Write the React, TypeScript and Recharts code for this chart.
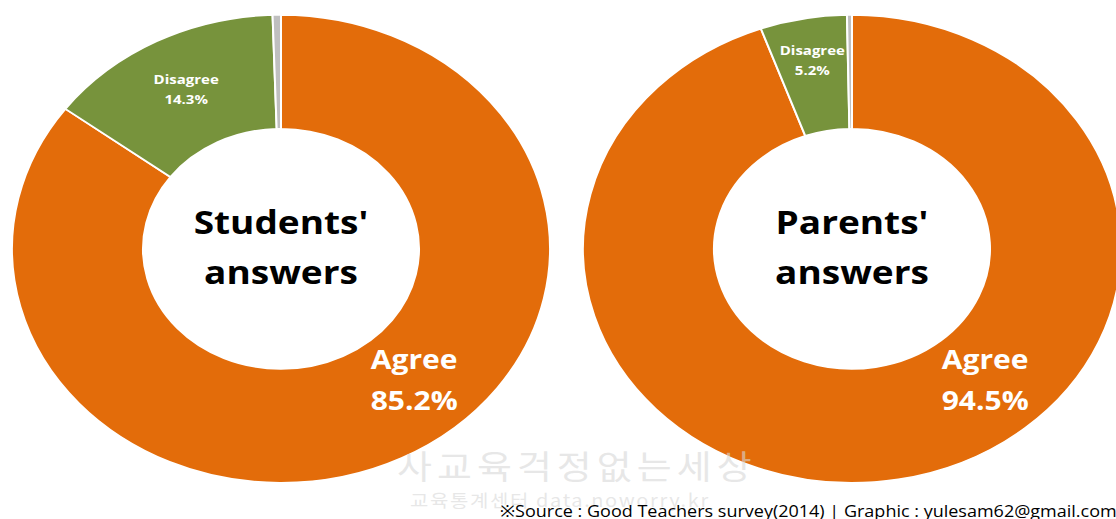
import { PieChart, Pie, Cell } from "recharts";

const categories = ["Agree", "Disagree", "No answer"];
const studentValues = [85.2, 14.3, 0.5];
const parentValues = [94.5, 5.2, 0.3];
const sliceColors = ["#E36C0A", "#77933C", "#BFBFBF"];
const chartTitles = [
  ["Students'", "answers"],
  ["Parents'", "answers"],
];
const sourceText = "※Source : Good Teachers survey(2014) | Graphic : yulesam62@gmail.com";
const watermark = ["사교육걱정없는세상", "교육통계센터 data.noworry.kr"];

const SQUASH = 0.87;
const W = 1116;
const H = 519;
const CH = Math.round(H / SQUASH);
const CY = 286;
const CENTERS = [281, 852];
const INNER = 138;
const OUTER = 269;
const FONT = "'Open Sans', 'Noto Sans', sans-serif";

const studentData = categories.map((name, i) => ({ name, value: studentValues[i] }));
const parentData = categories.map((name, i) => ({ name, value: parentValues[i] }));

const RADIAN = Math.PI / 180;

function SliceLabel(props: any) {
  const { cx = 0, cy = 0, midAngle = 0, index, value, name, percent = 0 } = props;
  if (index === 2) return null;
  const big = index === 0;
  // excel "best fit" puts the big label lower right, small ones at slice middle
  const angle = big ? -49 : midAngle;
  const r = big ? 203 : percent < 0.1 ? 219 : 205;
  const x = cx + r * Math.cos(angle * RADIAN);
  const y = cy - r * Math.sin(angle * RADIAN);
  const fs = big ? 30 : 15;
  const gap = big ? 47 : 23;
  return (
    <text
      x={x}
      y={y}
      fill="#fff"
      fontSize={fs}
      fontWeight={700}
      fontFamily={FONT}
      textAnchor="middle"
      dominantBaseline="middle"
    >
      <tspan x={x} y={y - gap / 2}>
        {name}
      </tspan>
      <tspan x={x} y={y + gap / 2}>
        {value}%
      </tspan>
    </text>
  );
}

export default function App() {
  return (
    <div
      style={{
        position: "absolute",
        left: 0,
        top: 0,
        width: W,
        height: H,
        overflow: "hidden",
        background: "#fff",
      }}
    >
      <div
        style={{
          position: "relative",
          width: W,
          height: CH,
          transform: `scaleY(${SQUASH})`,
          transformOrigin: "0 0",
        }}
      >
        <PieChart width={W} height={CH} margin={{ top: 0, right: 0, bottom: 0, left: 0 }}>
          {[studentData, parentData].map((data, k) => (
            <Pie
              key={k}
              data={data}
              dataKey="value"
              nameKey="name"
              cx={CENTERS[k]}
              cy={CY}
              innerRadius={INNER}
              outerRadius={OUTER}
              startAngle={90}
              endAngle={-270}
              stroke="#fff"
              strokeWidth={2}
              label={SliceLabel}
              labelLine={false}
              isAnimationActive={false}
            >
              {data.map((d, i) => (
                <Cell key={d.name} fill={sliceColors[i]} />
              ))}
            </Pie>
          ))}
        </PieChart>

        {chartTitles.map((lines, k) => (
          <div
            key={k}
            style={{
              position: "absolute",
              left: CENTERS[k] - 150,
              top: 226,
              width: 300,
              textAlign: "center",
              fontFamily: FONT,
              fontWeight: 700,
              fontSize: 37,
              lineHeight: "58px",
              color: "#000",
            }}
          >
            {lines.map((l) => (
              <div key={l}>{l}</div>
            ))}
          </div>
        ))}

        <div
          style={{
            position: "absolute",
            left: 397,
            top: 534 - 27,
            fontFamily: "'Noto Sans CJK KR', sans-serif",
            fontSize: 38,
            letterSpacing: 5,
            lineHeight: "54px",
            color: "rgba(215,215,215,0.6)",
            whiteSpace: "nowrap",
          }}
        >
          {watermark[0]}
        </div>
        <div
          style={{
            position: "absolute",
            left: 410,
            top: 575 - 15,
            fontFamily: "'Noto Sans CJK KR', sans-serif",
            fontSize: 20,
            letterSpacing: 1.6,
            lineHeight: "30px",
            color: "rgba(215,215,215,0.6)",
            whiteSpace: "nowrap",
          }}
        >
          {watermark[1]}
        </div>
        <div
          style={{
            position: "absolute",
            left: 500,
            top: 587 - 13,
            fontFamily: FONT,
            fontSize: 18,
            lineHeight: "26px",
            color: "#000",
            whiteSpace: "nowrap",
          }}
        >
          {sourceText}
        </div>
      </div>
    </div>
  );
}
